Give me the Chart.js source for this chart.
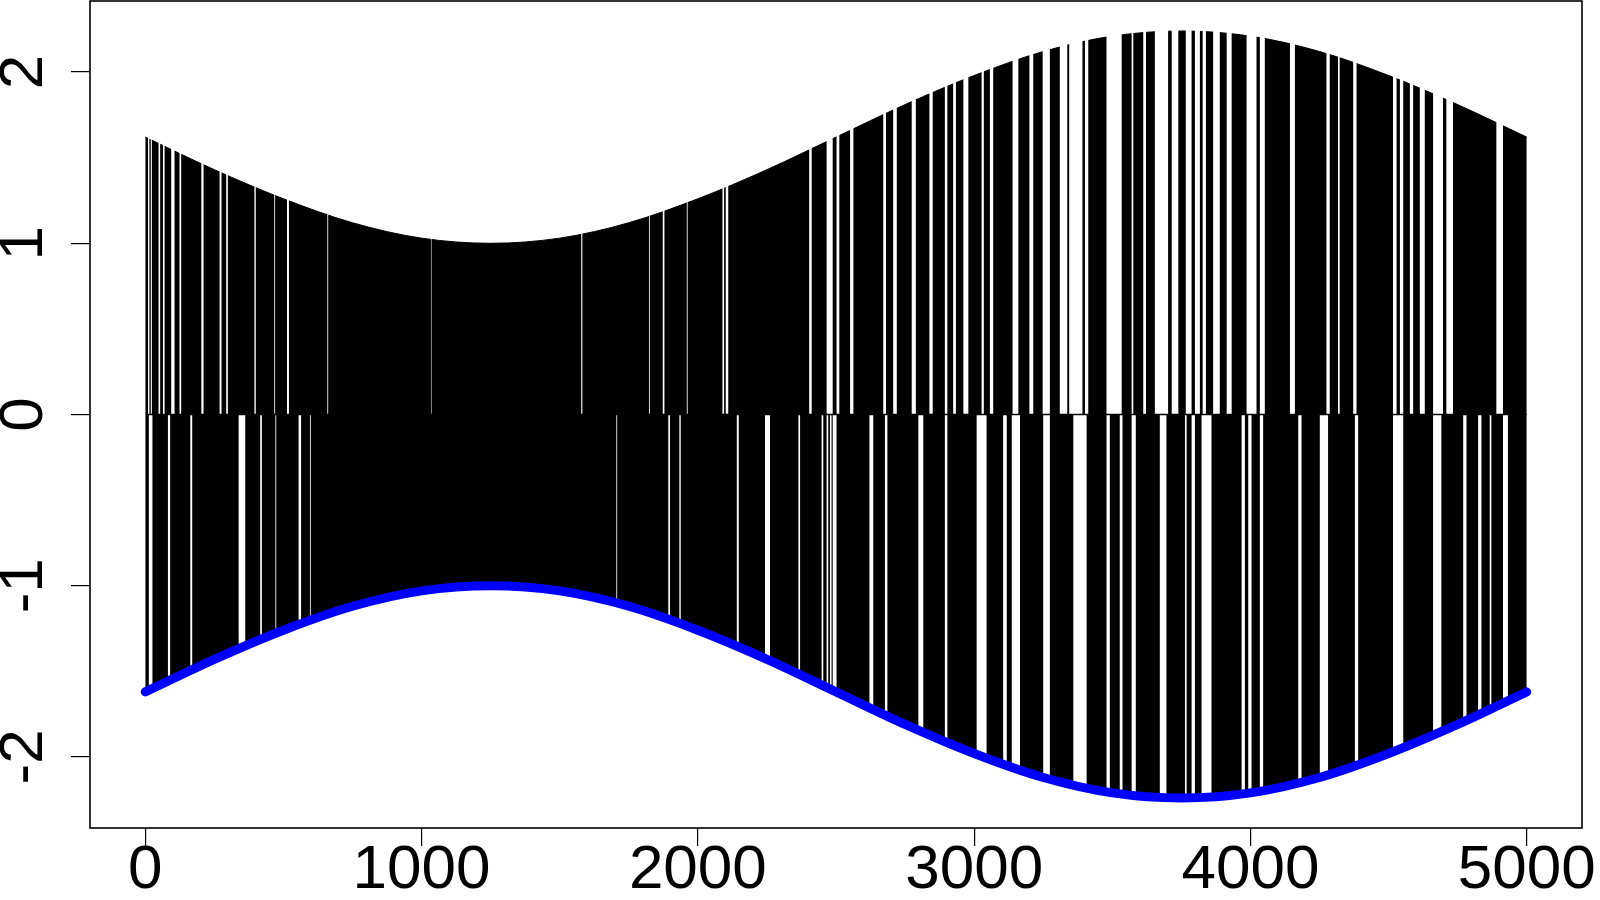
<!DOCTYPE html>
<html>
<head>
<meta charset="utf-8">
<script src="https://cdn.jsdelivr.net/npm/chart.js@4.4.1/dist/chart.umd.min.js"></script>
<style>
  html, body { margin: 0; padding: 0; background: #ffffff; }
  #wrap { width: 1600px; height: 900px; position: relative; }
</style>
</head>
<body>
<div id="wrap"><canvas id="c"></canvas></div>
<script>
// ---- data ----
// envelope sample positions (x) and envelope heights
const envX = [0, 250, 500, 750, 1000, 1250, 1500, 1750, 2000, 2250, 2500, 2750, 3000, 3250, 3500, 3750, 4000, 4250, 4500, 4750, 5000];
const upperEnv = [1.62, 1.43, 1.26, 1.12, 1.03, 1.00, 1.03, 1.12, 1.26, 1.43, 1.62, 1.81, 1.98, 2.12, 2.21, 2.24, 2.21, 2.12, 1.98, 1.81, 1.62];
const lowerEnv = [-1.62, -1.43, -1.26, -1.12, -1.03, -1.00, -1.03, -1.12, -1.26, -1.43, -1.62, -1.81, -1.98, -2.12, -2.21, -2.24, -2.21, -2.12, -1.98, -1.81, -1.62];
// x ranges where no upward spike is drawn
const upperGaps = [
  [10,15],[20,24],[48,54],[64,70],[94,106],[124,130],[203,211],[269,276],[293,299],[395,400],[467,470],[513,520],[659,662],[1034,1036],
  [1578,1582],[1823,1826],[1873,1879],[1960,1963],[2089,2095],[2101,2110],[2403,2412],[2466,2488],
  [2502,2512],[2551,2563],[2671,2681],[2707,2720],[2774,2789],[2838,2850],[2894,2903],[2924,2934],[2961,2979],[3027,3035],[3057,3069],
  [3139,3160],[3200,3214],[3248,3274],[3310,3337],[3344,3392],[3401,3413],[3479,3534],[3570,3576],[3612,3622],[3654,3702],[3715,3739],
  [3766,3787],[3799,3817],[3827,3839],[3865,3889],[3914,3932],[3986,4022],[4034,4052],[4143,4161],[4275,4287],[4317,4323],[4372,4384],
  [4516,4529],[4541,4553],[4577,4589],[4613,4631],[4661,4697],[4709,4733],[4890,4914]
];
// x ranges where no downward spike is drawn
const lowerGaps = [
  [12,26],[82,90],[163,170],[338,362],[416,422],[471,474],[555,564],[596,599],
  [1705,1708],[1893,1899],[1933,1938],[2141,2148],[2243,2261],[2364,2370],[2448,2454],[2466,2472],[2478,2484],[2488,2493],
  [2496,2502],[2621,2635],[2677,2686],[2798,2816],[2894,2903],[3009,3045],[3105,3118],[3136,3166],[3250,3274],[3359,3407],
  [3479,3491],[3527,3537],[3570,3585],[3672,3696],
  [3763,3769],[3787,3799],[3823,3859],[3968,3980],[3992,4004],[4034,4046],[4173,4185],[4251,4281],[4378,4390],[4516,4553],
  [4661,4691],[4770,4782],[4824,4836],[4866,4872],[4914,4932]
];
const baseLineX = [1, 5000];
const baseLineY = [0, 0];
const xTickValues = [0, 1000, 2000, 3000, 4000, 5000];
const xTickLabels = ['0', '1000', '2000', '3000', '4000', '5000'];
const yTickValues = [-2, -1, 0, 1, 2];
const yTickLabels = ['-2', '-1', '0', '1', '2'];
const xRange = [-200, 5200];
const yRange = [-2.415, 2.415];
const gapTop = 2.3, gapBottom = -2.3;

// ---- build datasets ----
const pts = (xs, ys) => xs.map((x, i) => ({ x: x, y: ys[i] }));
function gapPolyline(gaps, h) {
  const out = [];
  gaps.forEach(([a, b]) => {
    out.push({ x: a, y: 0 }, { x: a, y: h }, { x: b, y: h }, { x: b, y: 0 });
  });
  return out;
}

const frame = {
  id: 'frame',
  afterDraw(chart) {
    const { ctx, chartArea: a } = chart;
    ctx.save();
    ctx.strokeStyle = '#000';
    ctx.lineWidth = 1.6;
    ctx.strokeRect(a.left, a.top, a.right - a.left, a.bottom - a.top);
    ctx.restore();
  }
};

const font = { family: "'Liberation Sans', Arial, Helvetica, sans-serif", size: 62 };

new Chart(document.getElementById('c'), {
  type: 'line',
  data: {
    datasets: [
      { label: 'envelope', data: pts(envX, lowerEnv), borderColor: '#0000ff', borderWidth: 9,
        borderCapStyle: 'round', borderJoinStyle: 'round', cubicInterpolationMode: 'monotone',
        pointRadius: 0, fill: false, order: 0 },
      { label: 'zero', data: pts(baseLineX, baseLineY), borderColor: '#000', borderWidth: 1.5,
        pointRadius: 0, fill: false, order: 1 },
      { label: 'upperGaps', data: gapPolyline(upperGaps, gapTop), borderWidth: 0, borderColor: 'rgba(0,0,0,0)',
        backgroundColor: '#ffffff', tension: 0, pointRadius: 0, fill: 'origin', order: 2 },
      { label: 'lowerGaps', data: gapPolyline(lowerGaps, gapBottom), borderWidth: 0, borderColor: 'rgba(0,0,0,0)',
        backgroundColor: '#ffffff', tension: 0, pointRadius: 0, fill: 'origin', order: 2 },
      { label: 'up', data: pts(envX, upperEnv), borderColor: '#000', borderWidth: 1,
        backgroundColor: '#000', cubicInterpolationMode: 'monotone', pointRadius: 0, fill: 'origin', order: 3 },
      { label: 'down', data: pts(envX, lowerEnv), borderColor: '#000', borderWidth: 1,
        backgroundColor: '#000', cubicInterpolationMode: 'monotone', pointRadius: 0, fill: 'origin', order: 3 }
    ]
  },
  options: {
    responsive: true,
    maintainAspectRatio: false,
    devicePixelRatio: 1,
    animation: false,
    events: [],
    layout: { padding: { top: 1, right: 18, left: 0, bottom: 0 } },
    plugins: { legend: { display: false }, tooltip: { enabled: false } },
    scales: {
      x: {
        type: 'linear', position: 'bottom', min: xRange[0], max: xRange[1],
        afterBuildTicks: (s) => { s.ticks = xTickValues.map(v => ({ value: v })); },
        afterFit: (s) => { s.height = 72; s.paddingLeft = 0; s.paddingRight = 0; },
        border: { display: false },
        grid: { display: true, drawOnChartArea: false, drawTicks: true, tickLength: 18, color: '#000', lineWidth: 1.2 },
        ticks: { color: '#000', font: font, padding: -12, maxRotation: 0, minRotation: 0,
          callback: (v) => xTickLabels[xTickValues.indexOf(v)] }
      },
      y: {
        type: 'linear', position: 'left', min: yRange[0], max: yRange[1],
        afterBuildTicks: (s) => { s.ticks = yTickValues.map(v => ({ value: v })); },
        afterFit: (s) => { s.width = 90; s.paddingTop = 0; s.paddingBottom = 0; },
        border: { display: false },
        grid: { display: true, drawOnChartArea: false, drawTicks: true, tickLength: 19, color: '#000', lineWidth: 1.2 },
        ticks: { color: '#000', font: font, padding: 19, minRotation: 90, maxRotation: 90, crossAlign: 'center',
          callback: (v) => yTickLabels[yTickValues.indexOf(v)] }
      }
    }
  },
  plugins: [frame]
});
</script>
</body>
</html>
